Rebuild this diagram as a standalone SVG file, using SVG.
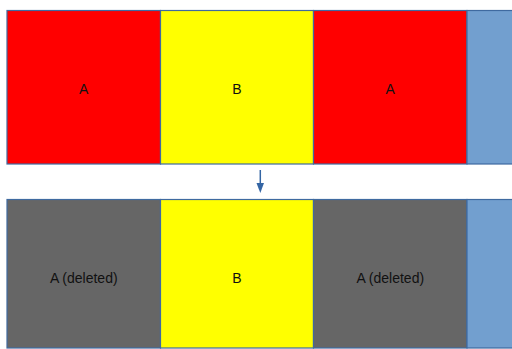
<svg xmlns="http://www.w3.org/2000/svg" width="512" height="349" viewBox="0 0 512 349">
<style>
.box{stroke:#3f6aa0;stroke-width:1.2}
.red{fill:#ff0000}
.yel{fill:#ffff00}
.gry{fill:#666666}
.blu{fill:#729fcf}
.lbl{font-family:"Liberation Sans",Arial,sans-serif;font-size:14px;fill:#111111;text-anchor:middle}
.conn{stroke:#3465a4;stroke-width:1.5;fill:none}
</style>
<defs>
<marker id="ah" markerWidth="8" markerHeight="10" refX="4" refY="10" orient="auto-start-reverse" markerUnits="userSpaceOnUse" viewBox="0 0 8 10">
<path d="M0,0 L8,0 L4,10 Z" fill="#3465a4" transform="rotate(0)"/>
</marker>
</defs>
<rect width="512" height="349" fill="#ffffff"/>
<g id="top-a1"><rect class="box red" x="7" y="10.5" width="153.5" height="153.5"/><text class="lbl" x="83.75" y="93.5">A</text></g>
<g id="top-b"><rect class="box yel" x="160.5" y="10.5" width="153" height="153.5"/><text class="lbl" x="237" y="93.5">B</text></g>
<g id="top-a2"><rect class="box red" x="313.5" y="10.5" width="153.5" height="153.5"/><text class="lbl" x="390.25" y="93.5">A</text></g>
<g id="top-blue"><rect class="box blu" x="467" y="10.5" width="50" height="153.5"/></g>
<g id="bot-a1"><rect class="box gry" x="7" y="199.5" width="153.5" height="148.5"/><text class="lbl" x="83.75" y="283">A (deleted)</text></g>
<g id="bot-b"><rect class="box yel" x="160.5" y="199.5" width="153" height="148.5"/><text class="lbl" x="237" y="283">B</text></g>
<g id="bot-a2"><rect class="box gry" x="313.5" y="199.5" width="153.5" height="148.5"/><text class="lbl" x="390.25" y="283">A (deleted)</text></g>
<g id="bot-blue"><rect class="box blu" x="467" y="199.5" width="50" height="148.5"/></g>
<g id="connectors">
<line class="conn" x1="260.3" y1="170" x2="260.3" y2="184"/>
<path d="M256.5,183 L264,183 L260.3,193 Z" fill="#3465a4"/>
</g>
</svg>
